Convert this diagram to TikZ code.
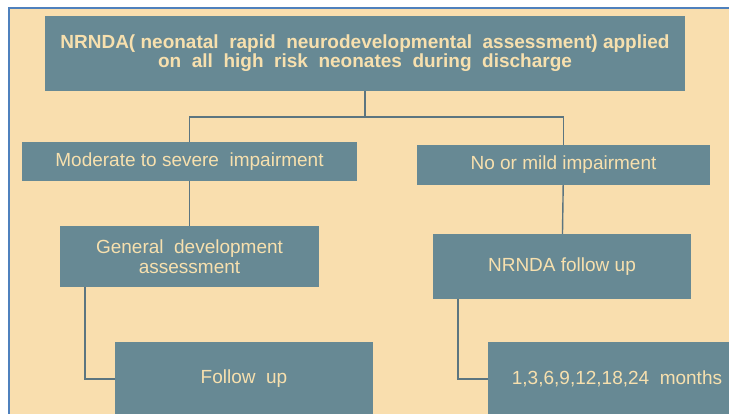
\documentclass[tikz,border=0pt]{standalone}
\usepackage{fontspec}
\setmainfont{Liberation Sans}
\usetikzlibrary{positioning}
\definecolor{sand}{RGB}{249,222,174}
\definecolor{slate}{RGB}{103,137,148}
\definecolor{cream}{RGB}{247,224,174}
\definecolor{wire}{RGB}{92,117,128}
\definecolor{frame}{RGB}{79,129,189}

\begin{document}
\begin{tikzpicture}[x=1pt,y=-1pt,
 block/.style={fill=slate,text=cream,inner sep=0pt,align=center,font=\fontsize{19}{20.5}\selectfont},
 link/.style={draw=wire,line width=1.4pt}]
\useasboundingbox (0,0) rectangle (729,414);
\clip (0,0) rectangle (729,414);
\fill[white] (0,0) rectangle (729,414);
\draw[fill=sand,draw=frame,line width=1.5pt] (9,8) rectangle (760,440);
% top decision and its two outcomes
\node[block,minimum width=640pt,minimum height=75pt,font=\bfseries\fontsize{19}{19}\selectfont] (top) at (365,53.5)
 {NRNDA( neonatal\ \ rapid\ \ neurodevelopmental\ \ assessment)\ applied\\on\ \ all\ \ high\ \ risk\ \ neonates\ \ during\ \ discharge};
\node[block,minimum width=335pt,minimum height=39pt] (mod) at (189.5,161.5) {Moderate to severe\ \ impairment};
\node[block,minimum width=293pt,minimum height=40pt] (mild) at (563.5,165) {No or mild impairment};
\node[block,minimum width=259pt,minimum height=61pt] (gen) at (189.5,256.5) {General\ \ development\\assessment};
\node[block,minimum width=258pt,minimum height=65pt] (nfu) at (562,266.5) {NRNDA follow up};
\node[block,minimum width=258pt,minimum height=74pt] (fol) at (244,379) {Follow\ \ up};
\node[block,minimum width=258pt,minimum height=74pt] (mon) at (617,379) {1,3,6,9,12,18,24\ \ months};
% connectors
\draw[link] (top.south) -- ++(0,26) -| (mod.north);
\draw[link] (top.south) -- ++(0,26) -| (mild.north);
\draw[link] (mod) -- (gen);
\draw[link] (mild) -- (nfu);
\draw[link] ([xshift=25pt]gen.south west) |- (fol.west);
\draw[link] ([xshift=25pt]nfu.south west) |- (mon.west);
\end{tikzpicture}
\end{document}
